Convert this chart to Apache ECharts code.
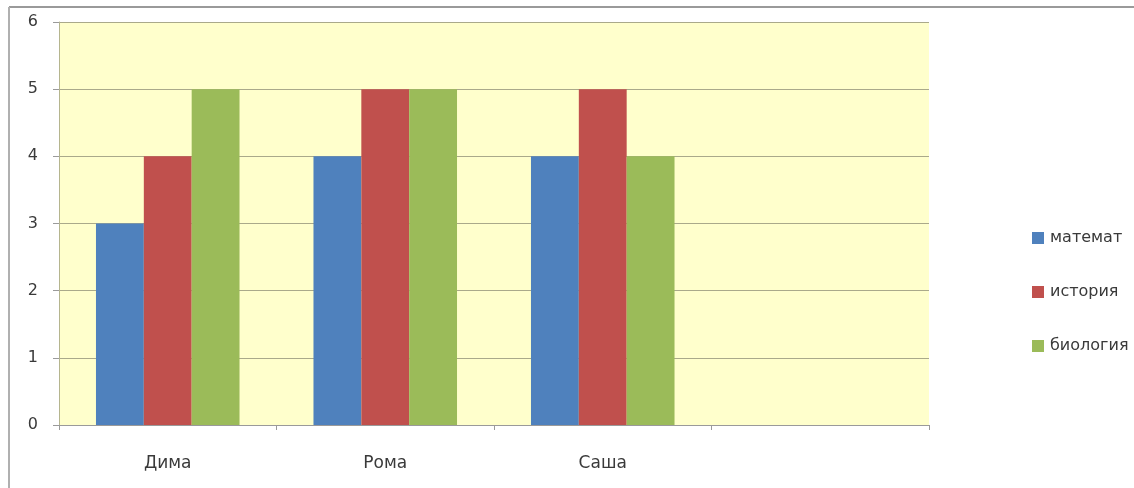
<!DOCTYPE html>
<html>
<head>
<meta charset="utf-8">
<script src="https://cdn.jsdelivr.net/npm/echarts@6/dist/echarts.min.js"></script>
<style>
html,body{margin:0;padding:0;background:#fff;}
#chart{width:1134px;height:488px;}
</style>
</head>
<body>
<div id="chart"></div>
<script>
// Pupils and their grades per subject
const pupils = ['Дима', 'Рома', 'Саша', ''];
const subjects = ['математ', 'история', 'биология'];
const math = [3, 4, 4, null];
const history = [4, 5, 5, null];
const biology = [5, 5, 4, null];
const colors = ['#4F81BD', '#C0504D', '#9BBB59'];

const font = '"DejaVu Sans", "Open Sans", sans-serif';
const chart = echarts.init(document.getElementById('chart'));

const seriesData = [math, history, biology];

chart.setOption({
  animation: false,
  textStyle: { fontFamily: font },
  graphic: [
    { type: 'line', shape: { x1: 9, y1: 7, x2: 1134, y2: 7 }, style: { stroke: '#9a9a9a', lineWidth: 2 } },
    { type: 'line', shape: { x1: 9, y1: 7, x2: 9, y2: 488 }, style: { stroke: '#b0b0b0', lineWidth: 2 } }
  ],
  grid: {
    left: 59, right: 205, top: 22, bottom: 63,
    show: true, backgroundColor: '#FFFFCC', borderWidth: 0
  },
  legend: {
    orient: 'vertical',
    left: 1027, top: 225,
    itemWidth: 12, itemHeight: 12, itemGap: 38,
    icon: 'rect',
    data: subjects,
    textStyle: { fontFamily: font, fontSize: 16, color: '#3a3a3a', padding: [0, 0, 0, 1] }
  },
  xAxis: {
    type: 'category',
    data: pupils,
    boundaryGap: true,
    axisLine: { lineStyle: { color: '#9a9a9a', width: 1 } },
    axisTick: { show: true, length: 5, lineStyle: { color: '#9a9a9a' } },
    axisLabel: { fontSize: 17, color: '#3a3a3a', margin: 30 }
  },
  yAxis: {
    type: 'value',
    min: 0, max: 6, interval: 1,
    axisLine: { show: true, lineStyle: { color: '#b5b58f', width: 1 } },
    axisTick: { show: true, length: 6, lineStyle: { color: '#9a9a9a' } },
    axisLabel: { fontSize: 16, color: '#3a3a3a', margin: 21 },
    splitLine: { lineStyle: { color: '#aaa98a', width: 1 } }
  },
  series: subjects.map((name, i) => ({
    name: name,
    type: 'bar',
    data: seriesData[i],
    itemStyle: { color: colors[i] },
    barGap: '0%',
    barCategoryGap: '34%'
  }))
});
</script>
</body>
</html>
